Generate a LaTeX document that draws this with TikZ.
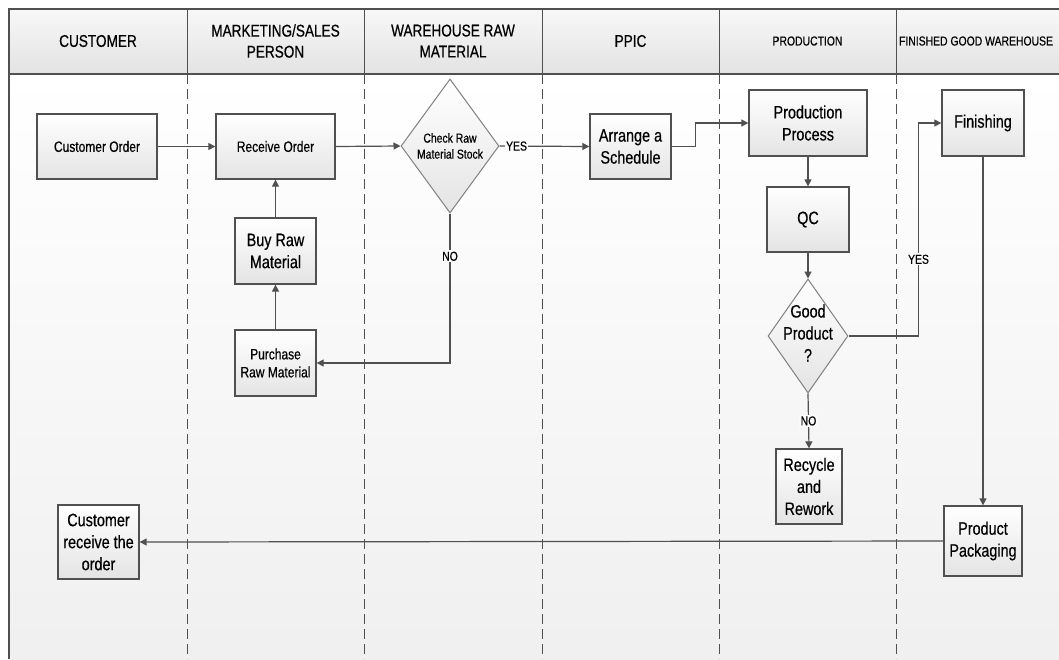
\documentclass[tikz,border=0pt]{standalone}
\usepackage{fontspec}
\setmainfont[FakeStretch=0.8, FakeBold=0.45]{Liberation Sans}
\usetikzlibrary{arrows.meta,shapes.geometric}
\definecolor{lineclr}{HTML}{505050}
\definecolor{boxbot}{HTML}{E4E4E4}
\newcommand\txtL{\fontsize{18}{22}\selectfont}
\newcommand\txtS{\fontsize{15}{18}\selectfont}
\tikzset{
  box/.style={draw=lineclr, line width=1.3pt, top color=white, bottom color=boxbot,
    align=center, inner sep=1pt, font=\txtL},
  decide/.style={diamond, draw=gray, line width=1pt, top color=white, bottom color=boxbot,
    align=center, inner sep=0pt, shape aspect=0.73},
  conn/.style={draw=lineclr, line width=1.2pt, -{Triangle[length=7pt,width=7pt]}},
  yn/.style={fill=white!98!black, inner sep=1.5pt, font=\fontsize{13}{15}\selectfont},
  lanehead/.style={align=center, font=\fontsize{17}{21}\selectfont},
  lanesep/.style={draw=lineclr, line width=1pt, dash pattern=on 10pt off 5pt}
}

\begin{document}
\begin{tikzpicture}[x=1pt, y=-1pt]
  \useasboundingbox (0,0) rectangle (1059,659);
  % swimlane frame
  \shade[top color=white, bottom color=white!94!black] (9,74) rectangle (1075,659);
  \shade[top color=white!97!black, bottom color=white!89!black] (9,9) rectangle (1075,74);
  \draw[lineclr, line width=1.3pt] (1075,9) -- (9,9) -- (9,659);
  \draw[lineclr, line width=1.3pt] (9,74) -- (1075,74);
  \foreach \x in {187,364,542,719,896} {
    \draw[lineclr, line width=1pt] (\x,9) -- (\x,74);
    \draw[lanesep] (\x,74) -- (\x,659);
  }
  \node[lanehead] (hcust) at (98,41) {CUSTOMER};
  \node[lanehead] (hsales) at (275.5,41) {MARKETING/SALES\\PERSON};
  \node[lanehead] (hware) at (453,41) {WAREHOUSE RAW\\MATERIAL};
  \node[lanehead] (hppic) at (630.5,41) {PPIC};
  \node[lanehead, font=\fontsize{13}{15}\selectfont] (hprod) at (807.5,41) {PRODUCTION};
  \node[lanehead, font=\fontsize{13}{15}\selectfont] (hfin) at (976,41) {FINISHED GOOD WAREHOUSE};

  % process steps
  \node[box, font=\txtS, minimum width=120pt, minimum height=65pt] (cord) at (97,146.5) {Customer Order};
  \node[box, font=\txtS, minimum width=119pt, minimum height=65pt] (recv) at (275.5,146.5) {Receive Order};
  \node[box, minimum width=81pt, minimum height=66pt] (buy) at (275.5,251) {Buy Raw\\Material};
  \node[box, font=\txtS, minimum width=81pt, minimum height=66pt] (purch) at (275.5,363) {Purchase\\Raw Material};
  \node[decide, font=\fontsize{13}{16}\selectfont, minimum width=98pt, minimum height=134pt] (chk) at (450,146) {Check Raw\\Material Stock};
  \node[box, minimum width=81pt, minimum height=65pt] (sched) at (630.5,146.5) {Arrange a\\Schedule};
  \node[box, minimum width=118pt, minimum height=66pt] (prod) at (808,123) {Production\\Process};
  \node[box, minimum width=82pt, minimum height=65pt] (qc) at (808,219.5) {QC};
  \node[decide, minimum width=80pt, minimum height=114pt] (good) at (808,336) {};
  \node[align=center, font=\txtL, inner sep=0pt] (goodtxt) at (808,333) {Good\\Product\\?};
  \node[box, minimum width=66pt, minimum height=75pt] (recyc) at (809,486.5) {Recycle\\and\\Rework};
  \node[box, minimum width=82pt, minimum height=66pt] (fin) at (983,123) {Finishing};
  \node[box, minimum width=78pt, minimum height=70pt] (pack) at (983,541) {Product\\Packaging};
  \node[box, minimum width=81pt, minimum height=74pt] (crecv) at (98.5,542) {Customer\\receive the\\order};

  % flow
  \draw[conn] (cord.east) -- (recv.west);
  \draw[conn] (recv.east) -- (chk.west);
  \draw[conn] (purch.north) -- (buy.south);
  \draw[conn] (buy.north) -- (recv.south);
  \draw[conn] (chk.east) -- node[yn, pos=0.19] (yes1) {YES} (sched.west);
  \draw[conn] (chk.south) |- node[yn, pos=0.143] (no1) {NO} (purch.east);
  \draw[conn] (sched.east) -- ++(24,0) |- (prod.west);
  \draw[conn] (prod.south) -- (qc.north);
  \draw[conn] (qc.south) -- (good.north);
  \draw[conn] (good.east) -- ++(70,0) |- node[yn, pos=0.18] (yes2) {YES} (fin.west);
  \draw[conn] (good.south) -- node[yn] (no2) {NO} (recyc.north);
  \draw[conn] (fin.south) -- (pack.north);
  \draw[conn] (pack.west) -- (crecv.east);
\end{tikzpicture}
\end{document}
